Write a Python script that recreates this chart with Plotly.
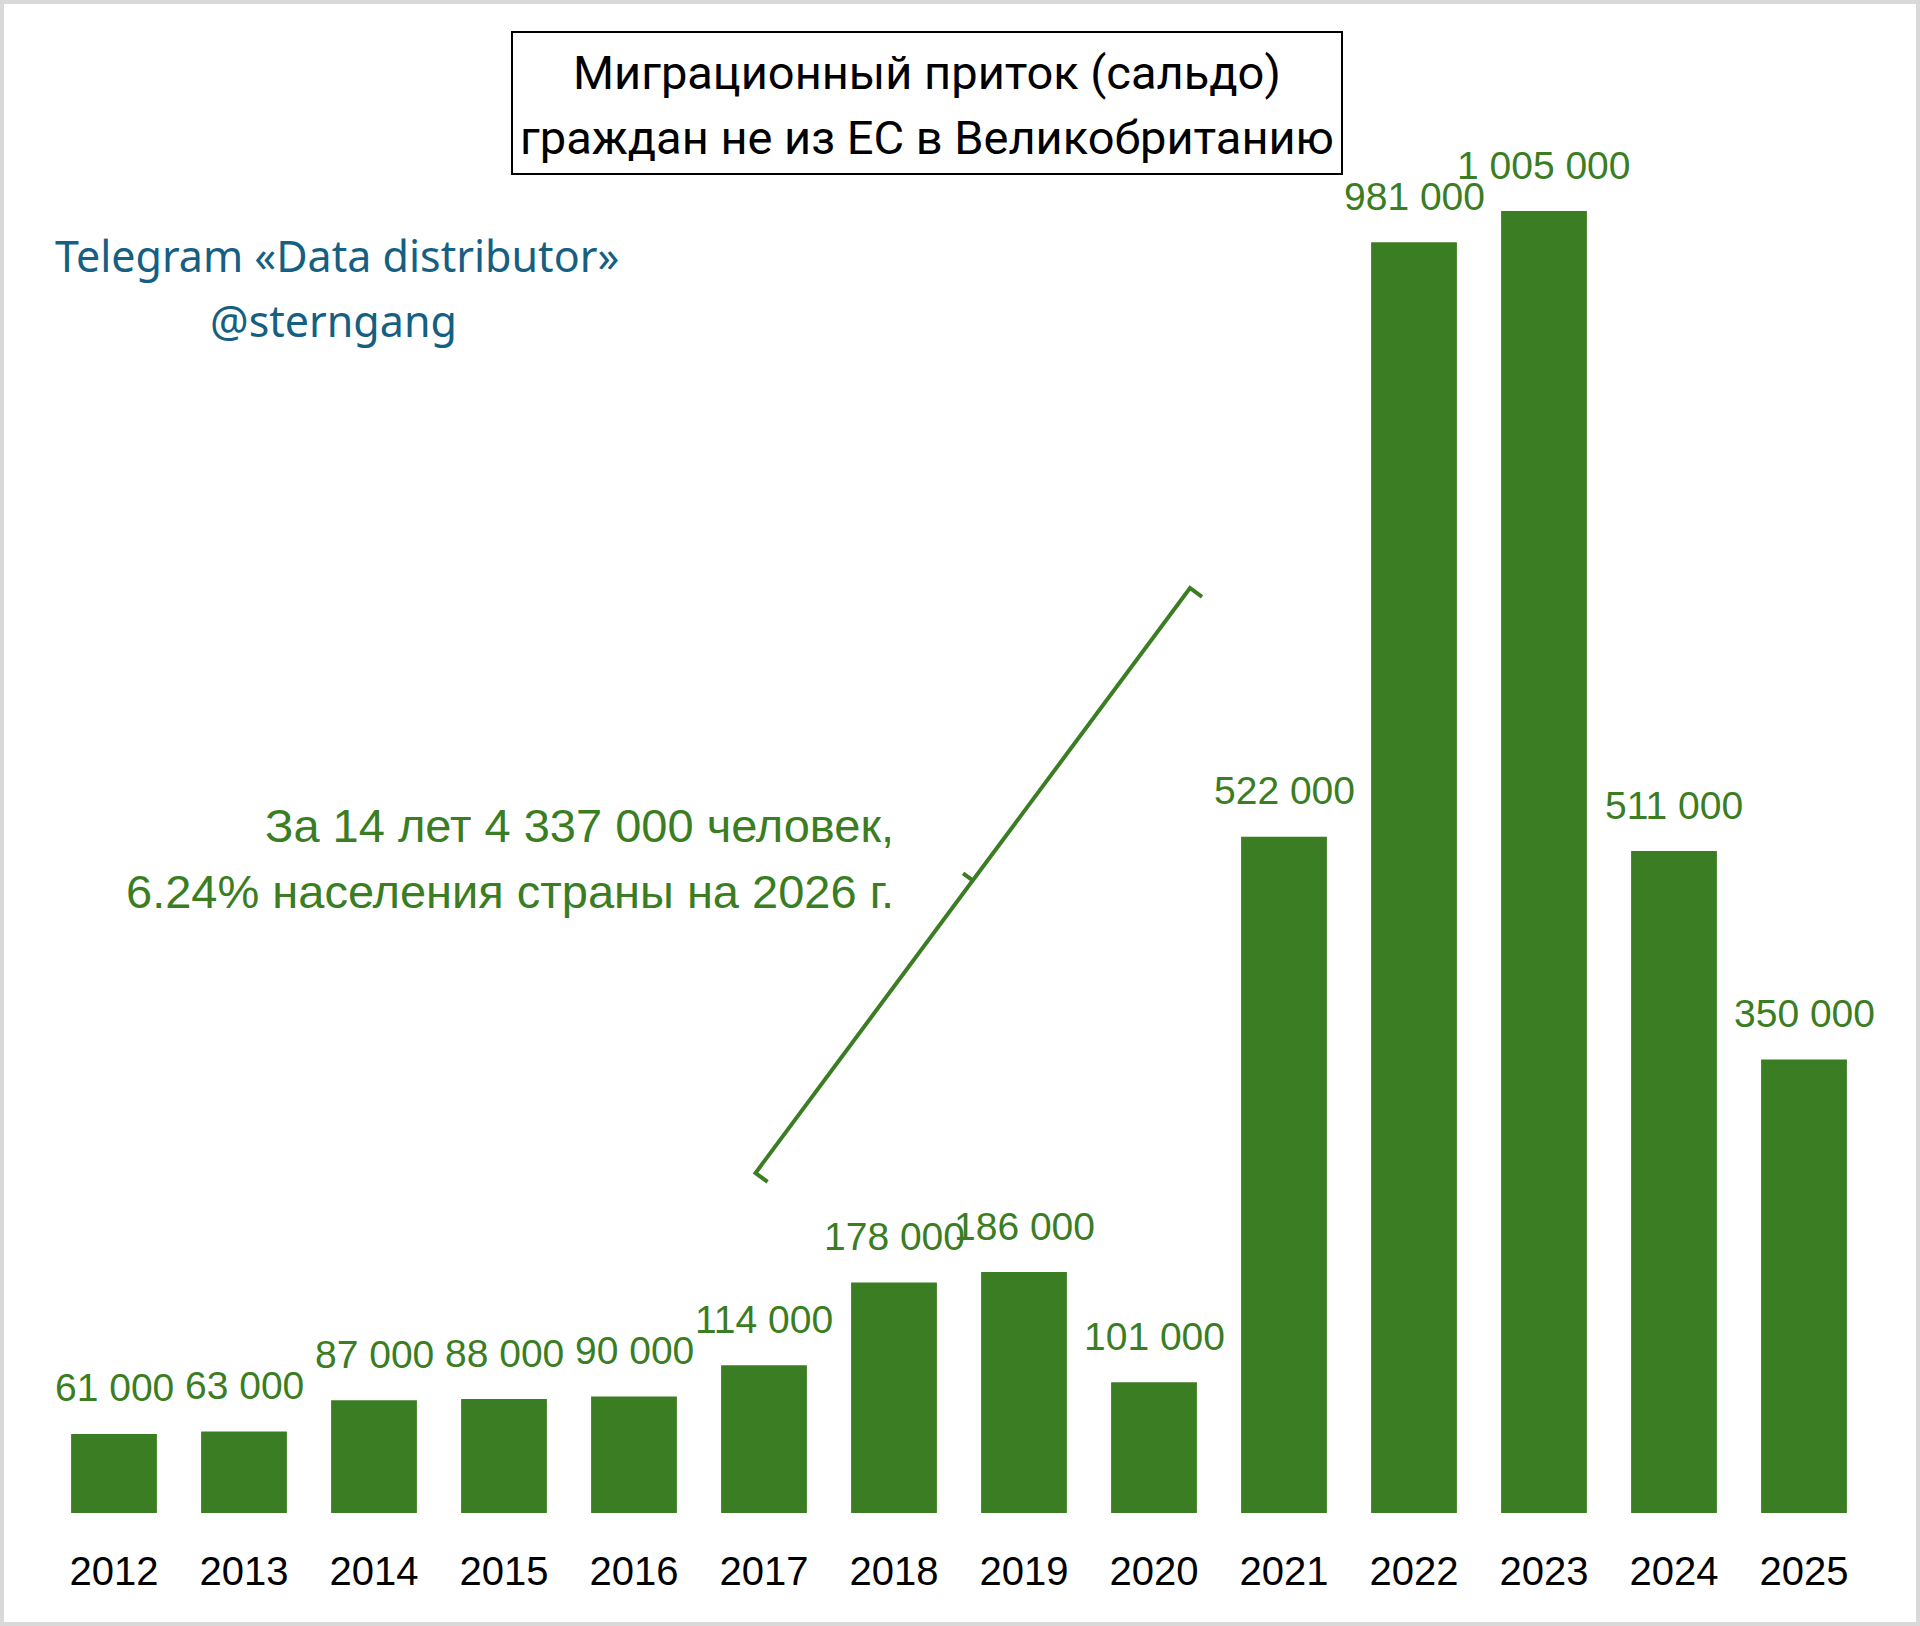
import plotly.graph_objects as go

# ---- data ----
years = ["2012", "2013", "2014", "2015", "2016", "2017", "2018", "2019",
         "2020", "2021", "2022", "2023", "2024", "2025"]
inflow = [61000, 63000, 87000, 88000, 90000, 114000, 178000, 186000,
          101000, 522000, 981000, 1005000, 511000, 350000]

title_lines = ["Миграционный приток (сальдо)", "граждан не из ЕС в Великобританию"]
watermark_lines = ["Telegram «Data distributor»", "@sterngang"]
note_lines = ["За 14 лет 4 337 000 человек,", "6.24% населения страны на 2026 г."]

# ---- layout geometry ----
W, H = 1920, 1626
ML, MR, MT, MB = 49, 51, 88, 113
PW, PH = W - ML - MR, H - MT - MB

GREEN = "#3A7D22"
BLUE = "#156082"


def px(x):
    return (x - ML) / PW


def py(y):
    return (H - MB - y) / PH


def fmt(v):
    return f"{v:,}".replace(",", " ")


fig = go.Figure()
fig.add_trace(go.Bar(
    x=years, y=inflow, marker=dict(color=GREEN, line=dict(width=0)),
    width=0.66, hoverinfo="x+y", showlegend=False,
))

annotations = []
for i, v in enumerate(inflow):
    annotations.append(dict(
        x=i, y=v, xref="x", yref="y", text=fmt(v), showarrow=False,
        yanchor="middle", xanchor="center", yshift=46,
        font=dict(family="Liberation Sans, Arial, sans-serif", size=39, color=GREEN),
    ))

# title (two lines inside a box)
for txt, yc in zip(title_lines, [73, 137]):
    annotations.append(dict(
        x=px(927), y=py(yc), xref="paper", yref="paper", text=txt,
        showarrow=False, xanchor="center", yanchor="middle",
        font=dict(family="Roboto, sans-serif", size=47, color="#000000"),
    ))

# watermark
for txt, xc, yc in zip(watermark_lines, [337, 333], [255, 320]):
    annotations.append(dict(
        x=px(xc), y=py(yc), xref="paper", yref="paper", text=txt,
        showarrow=False, xanchor="center", yanchor="middle",
        font=dict(family="Noto Sans, Lato, sans-serif", size=43, color=BLUE),
    ))

# green note
for txt, yc in zip(note_lines, [826, 891]):
    annotations.append(dict(
        x=px(896), y=py(yc), xref="paper", yref="paper", text=txt,
        showarrow=False, xanchor="right", yanchor="middle",
        font=dict(family="Liberation Sans, Arial, sans-serif", size=47, color=GREEN),
    ))

shapes = []
# outer frame
shapes.append(dict(type="rect", xref="paper", yref="paper",
                   x0=px(2), y0=py(2), x1=px(W - 2), y1=py(H - 2),
                   line=dict(color="#d9d9d9", width=4), layer="below"))
# title box
shapes.append(dict(type="rect", xref="paper", yref="paper",
                   x0=px(512), y0=py(32), x1=px(1342), y1=py(174),
                   line=dict(color="#000000", width=2)))

# bracket
bx0, by0 = 755.5, 1173.0
bx1, by1 = 1190.0, 588.0
dx, dy = bx1 - bx0, by1 - by0
L = (dx * dx + dy * dy) ** 0.5
ux, uy = dx / L, dy / L
nx, ny = -uy, ux  # perpendicular (right-down)
cap = 15
mx, my = (bx0 + bx1) / 2, (by0 + by1) / 2
pts = [
    (bx0 + nx * cap, by0 + ny * cap),
    (bx0, by0),
    (mx, my),
    (mx - nx * 12, my - ny * 12),
    (mx, my),
    (bx1, by1),
    (bx1 + nx * cap, by1 + ny * cap),
]
path = "M " + " L ".join(f"{px(a):.5f},{py(b):.5f}" for a, b in pts)
shapes.append(dict(type="path", xref="paper", yref="paper", path=path,
                   line=dict(color=GREEN, width=4)))

fig.update_layout(
    width=W, height=H,
    margin=dict(l=ML, r=MR, t=MT, b=MB, pad=0),
    paper_bgcolor="white", plot_bgcolor="white",
    xaxis=dict(type="category", showgrid=False, zeroline=False, showline=False,
               ticks="outside", ticklen=23, tickcolor="rgba(0,0,0,0)",
               tickfont=dict(family="Liberation Sans, Arial, sans-serif", size=40, color="#000000"),
               range=[-0.5, 13.5]),
    yaxis=dict(visible=False, range=[0, 1100000]),
    annotations=annotations,
    shapes=shapes,
    bargap=0.34,
)

fig.write_html("out.html")
